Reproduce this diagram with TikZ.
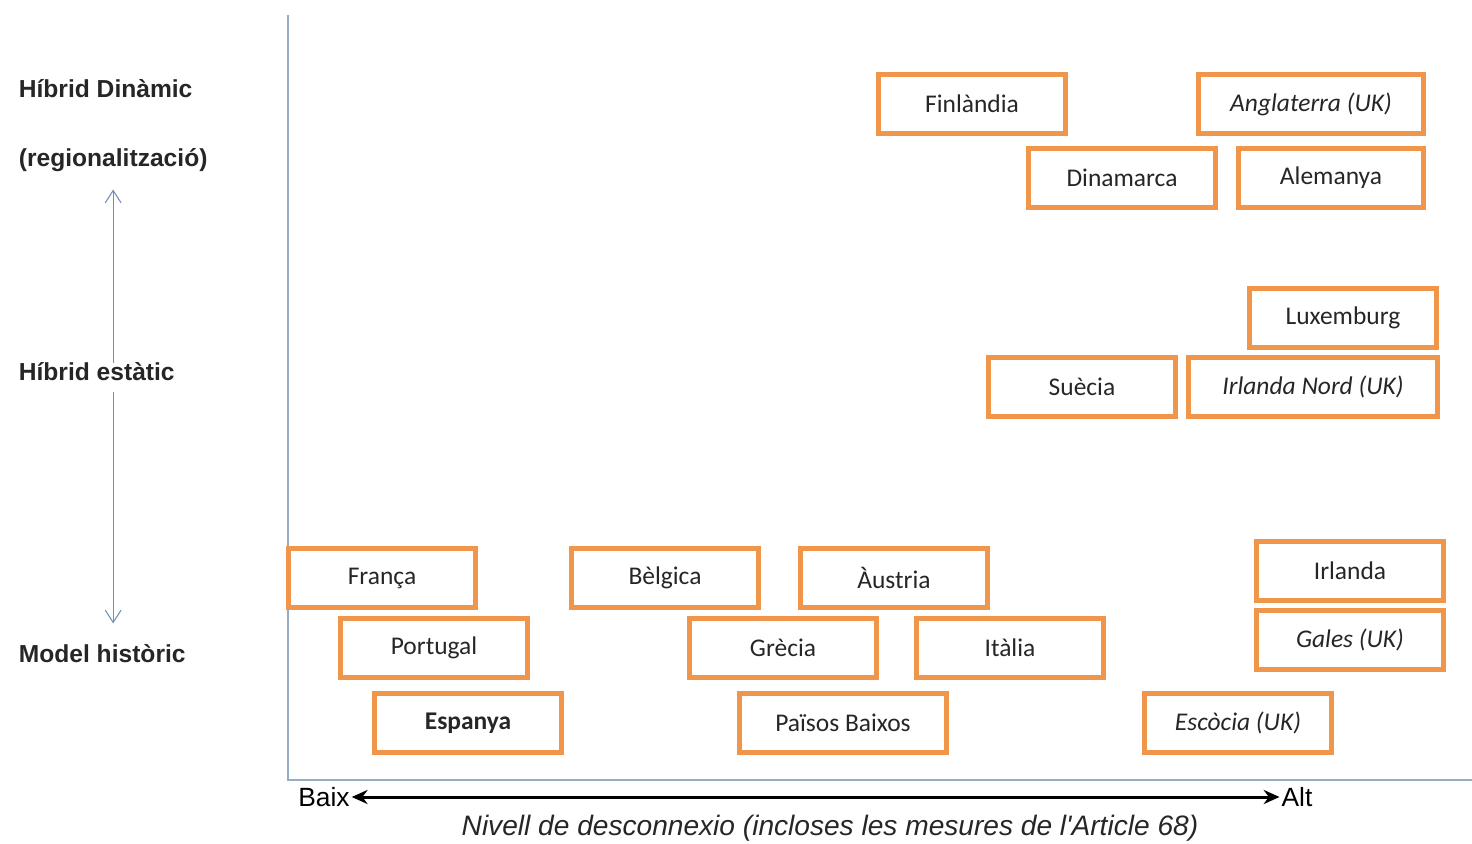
\documentclass[tikz,border=0pt]{standalone}
\usepackage{fontspec}
\setmainfont{Carlito}
\newfontfamily\arialfont{Liberation Sans}
\usetikzlibrary{arrows.meta}
\definecolor{taronja}{RGB}{240,150,75}
\definecolor{eixblau}{RGB}{150,172,196}
\definecolor{fletxablau}{RGB}{110,145,185}
\begin{document}
\begin{tikzpicture}[x=0.02cm,y=-0.02cm,
  pais/.style={draw=taronja,line width=0.1cm,minimum width=3.74cm,minimum height=1.18cm,inner sep=0pt,font=\fontsize{14.5}{16}\selectfont,text=black!85},
  eixos/.style={draw=eixblau,line width=0.04cm},
  nivell/.style={font=\arialfont\bfseries\fontsize{14}{16}\selectfont,anchor=west,inner sep=2pt,text=black!85},
  fletxa/.style={draw=fletxablau,line width=0.6pt,-{Straight Barb[length=7pt,width=9pt]}}]
\useasboundingbox (0,0) rectangle (1472,844);
% eixos
\draw[eixos] (288,15) -- (288,780) -- (1472,780);
% nivells del model
\node[nivell] (dinamic) at (15,89) {Híbrid Dinàmic};
\node[nivell] (regio) at (15,160) {(regionalització)};
\node[nivell] (estatic) at (15,372) {Híbrid estàtic};
\node[nivell] (model) at (15,654) {Model històric};
\draw[fletxa] ([yshift=-2pt]estatic.north -| regio.south) -- ([yshift=-8pt]regio.south);
\draw[fletxa] ([yshift=-4pt]estatic.south -| regio.south) -- ([yshift=10pt]model.north -| regio.south);
% paisos
\node[pais] (finlandia) at (972,104) {Finlàndia};
\node[pais,minimum width=4.52cm] (anglaterra) at (1311,104) {\itshape Anglaterra (UK)};
\node[pais] (dinamarca) at (1122,178) {Dinamarca};
\node[pais,minimum width=3.72cm] (alemanya) at (1331,178) {Alemanya};
\node[pais] (luxemburg) at (1343,318) {Luxemburg};
\node[pais] (suecia) at (1082,387) {Suècia};
\node[pais,minimum width=4.98cm] (irlnord) at (1313,387) {\itshape Irlanda Nord (UK)};
\node[pais] (franca) at (382,578) {França};
\node[pais] (belgica) at (665,578) {Bèlgica};
\node[pais] (austria) at (894,578) {Àustria};
\node[pais] (irlanda) at (1350,571) {Irlanda};
\node[pais] (portugal) at (434,648) {Portugal};
\node[pais] (grecia) at (783,648) {Grècia};
\node[pais] (italia) at (1010,648) {Itàlia};
\node[pais] (gales) at (1350,640) {\itshape Gales (UK)};
\node[pais] (espanya) at (468,723) {\bfseries Espanya};
\node[pais,minimum width=4.16cm] (baixos) at (843,723) {Països Baixos};
\node[pais] (escocia) at (1238,723) {\itshape Escòcia (UK)};
% nivell de desconnexio
\node[font=\arialfont\fontsize{15}{17}\selectfont,inner sep=1pt] (baix) at (324,797) {Baix};
\node[font=\arialfont\fontsize{15}{17}\selectfont,inner sep=1pt] (alt) at (1297,797) {Alt};
\draw[line width=0.06cm,{Stealth[length=9pt,width=8pt]}-{Stealth[length=9pt,width=8pt]}] (baix) -- (alt);
\node[font=\arialfont\itshape\fontsize{16}{18}\selectfont,text=black!85] (titol) at (830,828) {Nivell de desconnexio (incloses les mesures de l'Article 68)};
\end{tikzpicture}
\end{document}
